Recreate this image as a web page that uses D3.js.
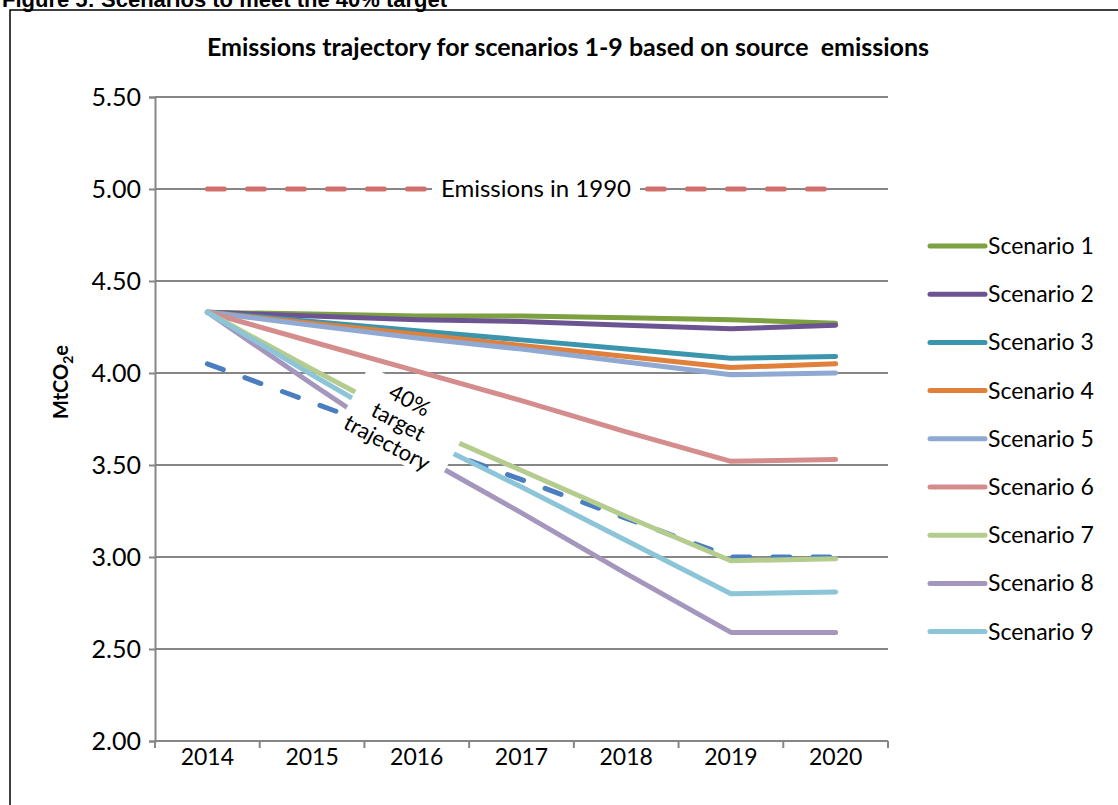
<!DOCTYPE html>
<html>
<head>
<meta charset="utf-8">
<script src="https://cdn.jsdelivr.net/npm/d3@7"></script>
<style>
  body { margin: 0; background: #fff; }
  svg { display: block; }
</style>
</head>
<body>
<script>
const years = [2014, 2015, 2016, 2017, 2018, 2019, 2020];
const yTicks = [2.00, 2.50, 3.00, 3.50, 4.00, 4.50, 5.00, 5.50];

const scenarioNames = ['Scenario 1', 'Scenario 2', 'Scenario 3', 'Scenario 4', 'Scenario 5',
    'Scenario 6', 'Scenario 7', 'Scenario 8', 'Scenario 9'];
const scenario1 = [4.33, 4.32, 4.31, 4.31, 4.30, 4.29, 4.27];
const scenario2 = [4.33, 4.31, 4.29, 4.28, 4.26, 4.24, 4.26];
const scenario3 = [4.33, 4.28, 4.23, 4.18, 4.13, 4.08, 4.09];
const scenario4 = [4.33, 4.27, 4.21, 4.15, 4.09, 4.03, 4.05];
const scenario5 = [4.33, 4.26, 4.19, 4.13, 4.06, 3.99, 4.00];
const scenario6 = [4.33, 4.17, 4.01, 3.85, 3.68, 3.52, 3.53];
const scenario7 = [4.33, 4.02, 3.72, 3.47, 3.22, 2.98, 2.99];
const scenario8 = [4.33, 3.94, 3.56, 3.24, 2.91, 2.59, 2.59];
const scenario9 = [4.33, 3.99, 3.66, 3.38, 3.09, 2.80, 2.81];
const target40 = [4.05, 3.84, 3.63, 3.42, 3.21, 3.00, 3.00];
const emissions1990 = [5.00, 5.00, 5.00, 5.00, 5.00, 5.00, 5.00];

const scenarioColors = ['#7DA040', '#6C5492', '#3A95AD', '#E0803A', '#8FA9D3',
    '#D48D8C', '#B5CC8F', '#A496BD', '#8CC4D8'];

const W = 1118, H = 805;
const plot = {left: 155, right: 888, top: 97, bottom: 741};
const chartFont = 'Lato, "Open Sans", sans-serif';

const svg = d3.select('body').append('svg')
    .attr('width', W)
    .attr('height', H);

// page heading, cut by the top of the window
svg.append('text')
    .attr('x', 2)
    .attr('y', 7)
    .style('font-family', '"Liberation Sans", Arial, sans-serif')
    .style('font-weight', 'bold')
    .style('font-size', '22px')
    .text('Figure 5: Scenarios to meet the 40% target');

// chart frame
svg.append('rect')
    .attr('x', 10).attr('y', 10)
    .attr('width', W).attr('height', H)
    .attr('fill', 'none')
    .attr('stroke', '#000')
    .attr('stroke-width', 1.5);

const x = d3.scaleBand()
    .domain(years)
    .range([plot.left, plot.right]);
const xc = d => x(d) + x.bandwidth() / 2;

const y = d3.scaleLinear()
    .domain([2, 5.5])
    .range([plot.bottom, plot.top]);

// chart title (keeps the double space of the original)
svg.append('text')
    .attr('x', 568)
    .attr('y', 56)
    .attr('text-anchor', 'middle')
    .style('white-space', 'pre')
    .style('font-family', chartFont)
    .style('font-weight', 'bold')
    .style('font-size', '25px')
    .text('Emissions trajectory for scenarios 1-9 based on source  emissions');

// gridlines
svg.append('g')
    .selectAll('line')
    .data(yTicks.slice(1))
    .enter()
    .append('line')
    .attr('x1', plot.left).attr('x2', plot.right)
    .attr('y1', d => y(d)).attr('y2', d => y(d))
    .attr('stroke', '#868686')
    .attr('stroke-width', 2);

// y axis
const yAxis = d3.axisLeft(y)
    .tickValues(yTicks)
    .tickFormat(d3.format('.2f'))
    .tickSize(6)
    .tickPadding(8);

const gY = svg.append('g')
    .attr('transform', 'translate(' + plot.left + ',0)')
    .call(yAxis);
gY.select('.domain').attr('stroke', '#868686').attr('stroke-width', 2);
gY.selectAll('.tick line').attr('stroke', '#868686').attr('stroke-width', 2);
gY.selectAll('.tick text')
    .style('font-family', chartFont)
    .style('font-size', '25px')
    .attr('fill', '#000');

// x axis: labels in the middle of the bands, ticks on the band edges
const xAxis = d3.axisBottom(x)
    .tickSize(0)
    .tickPadding(8);

const gX = svg.append('g')
    .attr('transform', 'translate(0,' + plot.bottom + ')')
    .call(xAxis);
gX.select('.domain').remove();
gX.selectAll('.tick text')
    .style('font-family', chartFont)
    .style('font-size', '23px')
    .attr('fill', '#000');

svg.append('line')
    .attr('x1', plot.left).attr('x2', plot.right)
    .attr('y1', plot.bottom).attr('y2', plot.bottom)
    .attr('stroke', '#868686')
    .attr('stroke-width', 2);

svg.append('g')
    .selectAll('line')
    .data(years.map(d => x(d)).concat([plot.right]))
    .enter()
    .append('line')
    .attr('x1', d => d).attr('x2', d => d)
    .attr('y1', plot.bottom).attr('y2', plot.bottom + 7)
    .attr('stroke', '#868686')
    .attr('stroke-width', 2);

// y axis title
svg.append('text')
    .attr('transform', 'translate(68,382) rotate(-90)')
    .attr('text-anchor', 'middle')
    .style('font-family', chartFont)
    .style('font-weight', 'bold')
    .style('font-size', '20px')
    .call(t => {
        t.append('tspan').text('MtCO');
        t.append('tspan').attr('dy', 5).style('font-size', '14px').text('2');
        t.append('tspan').attr('dy', -5).text('e');
    });

const line = d3.line()
    .x((d, i) => xc(years[i]))
    .y(d => y(d));

// 1990 level
svg.append('path')
    .datum(emissions1990)
    .attr('d', line)
    .attr('fill', 'none')
    .attr('stroke', '#D06F6C')
    .attr('stroke-width', 5)
    .attr('stroke-linecap', 'round')
    .attr('stroke-dasharray', '17,23');

const label1990 = svg.append('g')
    .attr('transform', 'translate(536,' + y(5) + ')');
label1990.append('rect')
    .attr('x', -104).attr('y', -16)
    .attr('width', 208).attr('height', 32)
    .attr('fill', '#fff');
label1990.append('text')
    .attr('text-anchor', 'middle')
    .attr('dy', '0.35em')
    .style('font-family', chartFont)
    .style('font-size', '24px')
    .text('Emissions in 1990');

// 40% target trajectory
svg.append('path')
    .datum(target40)
    .attr('d', line)
    .attr('fill', 'none')
    .attr('stroke', '#4A7EC1')
    .attr('stroke-width', 5)
    .attr('stroke-linecap', 'round')
    .attr('stroke-dasharray', '17,23');

const scenarios = [scenario1, scenario2, scenario3, scenario4, scenario5,
    scenario6, scenario7, scenario8, scenario9];

svg.append('g')
    .selectAll('path')
    .data(scenarios)
    .enter()
    .append('path')
    .attr('d', line)
    .attr('fill', 'none')
    .attr('stroke', (d, i) => scenarioColors[i])
    .attr('stroke-width', 5)
    .attr('stroke-linecap', 'round')
    .attr('stroke-linejoin', 'round');

// rotated text box that sits over the steep scenarios
const note = svg.append('g')
    .attr('transform', 'translate(406,420) rotate(28)');
note.append('rect')
    .attr('x', -58).attr('y', -31)
    .attr('width', 116).attr('height', 72)
    .attr('fill', '#fff');
note.append('text')
    .attr('text-anchor', 'middle')
    .style('font-family', chartFont)
    .style('font-size', '22px')
    .selectAll('tspan')
    .data(['40%', 'target', 'trajectory'])
    .enter()
    .append('tspan')
    .attr('x', -6)
    .attr('y', (d, i) => -19 + i * 24)
    .attr('dy', '0.35em')
    .text(d => d);

// legend
const legend = svg.append('g')
    .selectAll('g')
    .data(scenarioNames)
    .enter()
    .append('g')
    .attr('transform', (d, i) => 'translate(930,' + (246 + i * 48.2) + ')');
legend.append('line')
    .attr('x1', 0).attr('x2', 55)
    .attr('stroke', (d, i) => scenarioColors[i])
    .attr('stroke-width', 5)
    .attr('stroke-linecap', 'round');
legend.append('text')
    .attr('x', 58)
    .attr('dy', '0.35em')
    .style('font-family', chartFont)
    .style('font-size', '23px')
    .text(d => d);
</script>
</body>
</html>
